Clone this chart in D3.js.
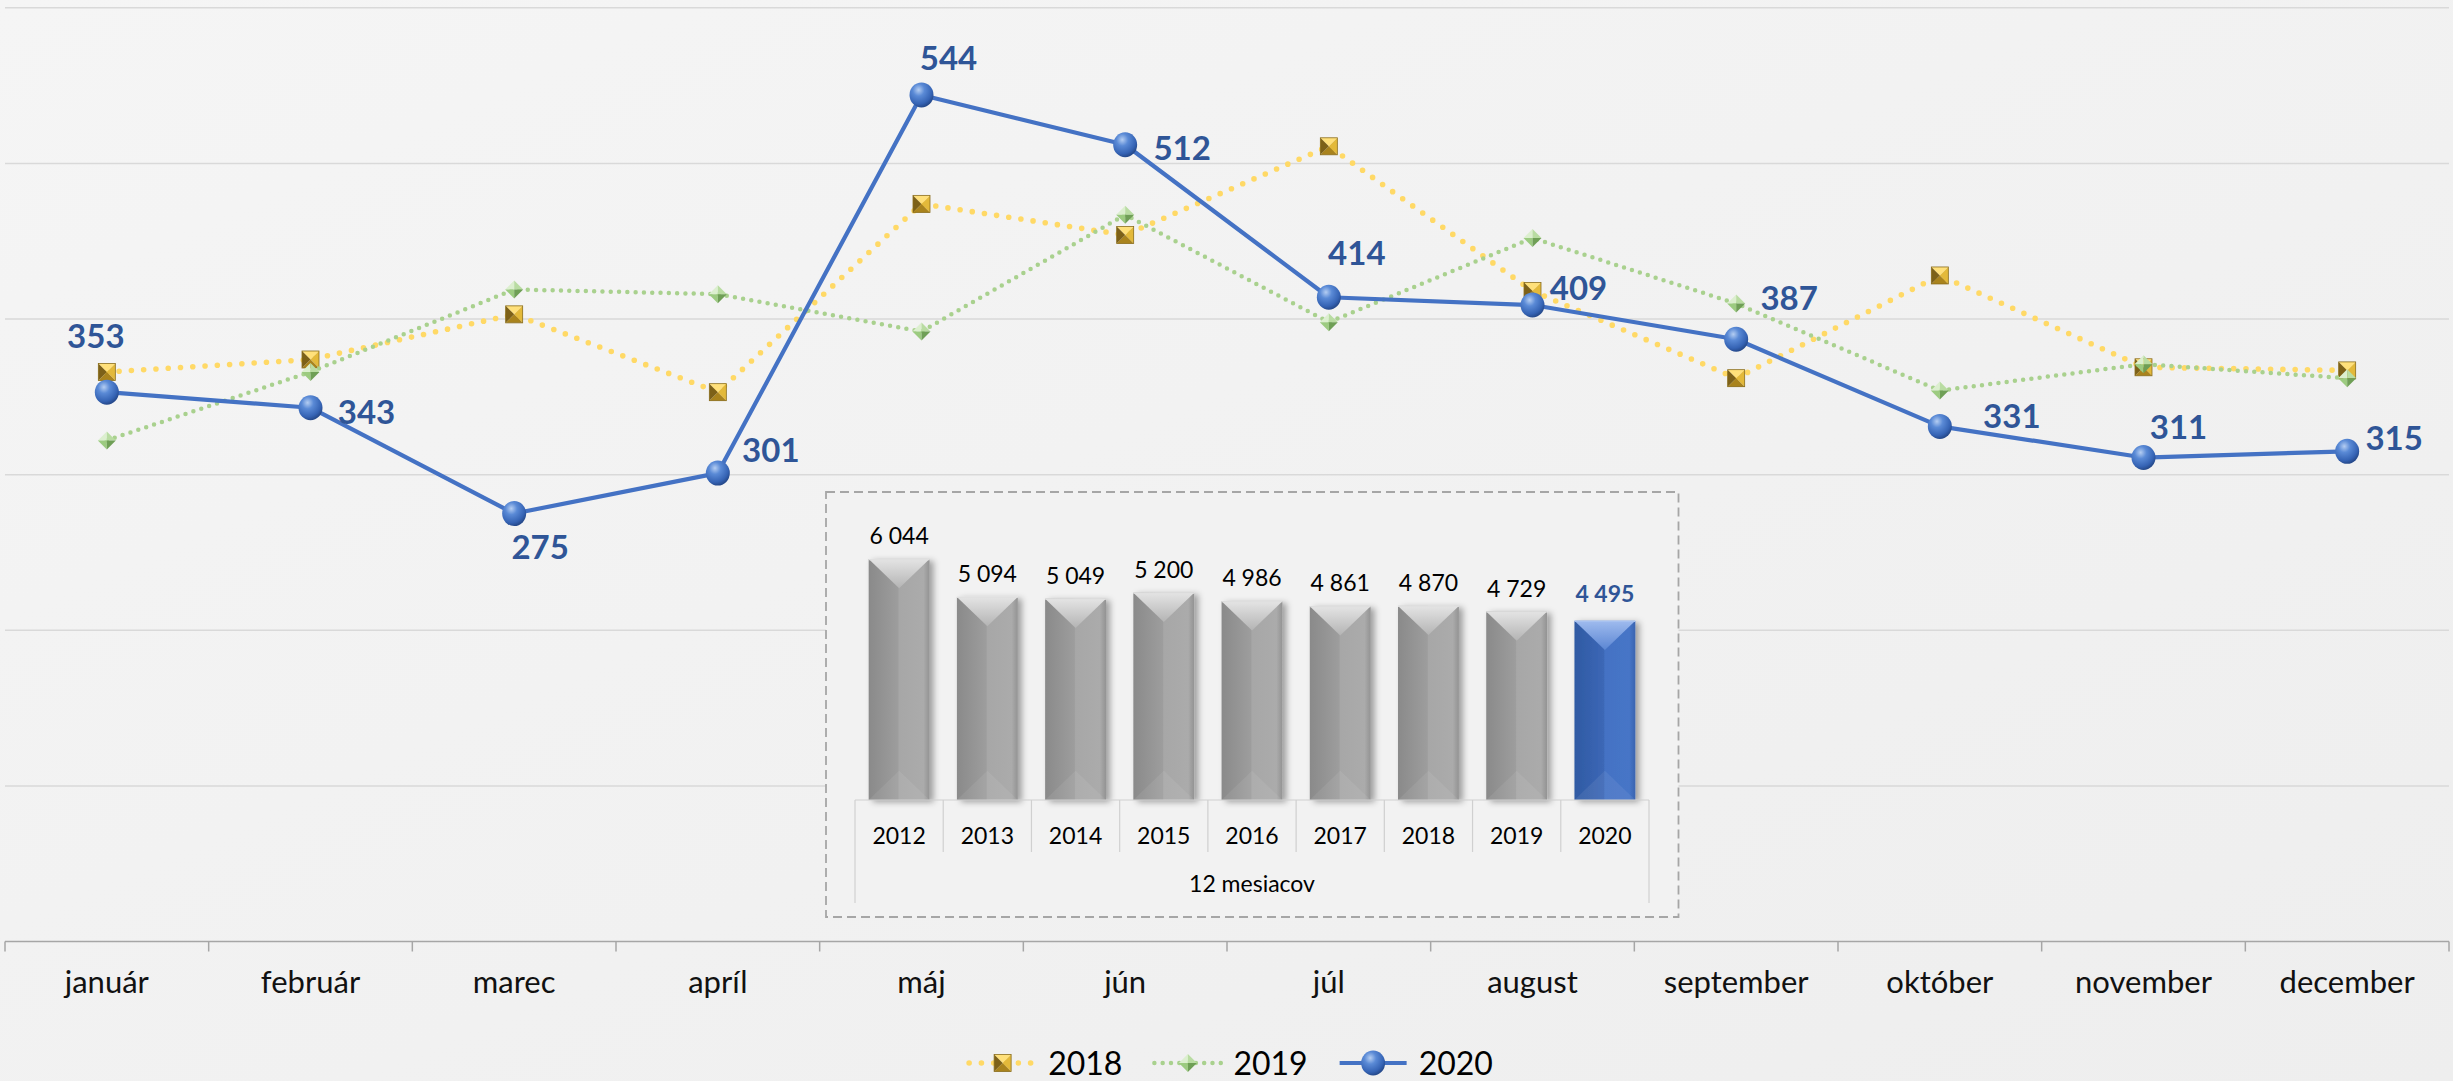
<!DOCTYPE html>
<html>
<head>
<meta charset="utf-8">
<script src="https://cdn.jsdelivr.net/npm/d3@7"></script>
<style>
html, body { margin: 0; padding: 0; background: #f2f2f2; }
svg { display: block; font-family: Lato, "Open Sans", sans-serif; }
</style>
</head>
<body>
<svg id="chart" width="2453" height="1081"></svg>
<script>
var months = ["január", "február", "marec", "apríl", "máj", "jún", "júl", "august", "september", "október", "november", "december"]
var seriesNames = ["2018", "2019", "2020"]
var values2018 = [366, 374, 403, 353, 474, 454, 511, 418, 362, 428, 369, 367]
var values2019 = [322, 366, 419, 416, 392, 467, 398, 452, 410, 354, 371, 362]
var values2020 = [353, 343, 275, 301, 544, 512, 414, 409, 387, 331, 311, 315]
var years = ["2012", "2013", "2014", "2015", "2016", "2017", "2018", "2019", "2020"]
var yearTotals = [6044, 5094, 5049, 5200, 4986, 4861, 4870, 4729, 4495]
var totalsCaption = "12 mesiacov"

// manual nudges of the 2020 data labels, like the hand-placed ones in the original
var labelNudge = [[-11, -57], [56, 3], [26, 32], [53, -24], [27, -38], [57, 2],
    [28, -45], [46, -18], [53, -42], [72, -11], [35, -32], [47, -14]]

var W = 2453, H = 1081
var svg = d3.select("#chart")
var defs = svg.append("defs")

var bg = defs.append("linearGradient").attr("id", "bg")
    .attr("x1", 0).attr("y1", 0).attr("x2", 1).attr("y2", 1)
bg.append("stop").attr("offset", 0).attr("stop-color", "#f5f5f5")
bg.append("stop").attr("offset", 1).attr("stop-color", "#eeeeee")

var sphere = defs.append("radialGradient").attr("id", "sphere")
    .attr("cx", "38%").attr("cy", "30%").attr("r", "70%")
sphere.append("stop").attr("offset", 0).attr("stop-color", "#b4cdf2")
sphere.append("stop").attr("offset", 0.35).attr("stop-color", "#5a8ad6")
sphere.append("stop").attr("offset", 0.8).attr("stop-color", "#3563b4")
sphere.append("stop").attr("offset", 1).attr("stop-color", "#264a8c")

function hGrad(id, stops) {
    var g = defs.append("linearGradient").attr("id", id)
        .attr("x1", 0).attr("y1", 0).attr("x2", 1).attr("y2", 0)
    stops.forEach(function(s) {
        g.append("stop").attr("offset", s[0]).attr("stop-color", s[1])
    })
}
function vGrad(id, stops) {
    var g = defs.append("linearGradient").attr("id", id)
        .attr("x1", 0).attr("y1", 0).attr("x2", 0).attr("y2", 1)
    stops.forEach(function(s) {
        g.append("stop").attr("offset", s[0]).attr("stop-color", s[1])
    })
}
hGrad("barGray", [[0, "#8a8a8a"], [0.48, "#9d9d9d"], [0.5, "#a7a7a7"], [0.9, "#ababab"], [1, "#939393"]])
hGrad("barBlue", [[0, "#2f5aa3"], [0.48, "#3c67b6"], [0.5, "#4472c4"], [0.9, "#4675c7"], [1, "#3a64b0"]])
vGrad("topGray", [[0, "#e4e4e4"], [1, "#b4b4b4"]])
vGrad("topBlue", [[0, "#9fbbee"], [1, "#5b86d3"]])

var shadow = defs.append("filter").attr("id", "shadow")
    .attr("x", "-30%").attr("y", "-10%").attr("width", "160%").attr("height", "130%")
shadow.append("feDropShadow").attr("dx", 4).attr("dy", 2)
    .attr("stdDeviation", 3).attr("flood-color", "#000").attr("flood-opacity", 0.35)

svg.append("rect").attr("width", W).attr("height", H).attr("fill", "url(#bg)")

// main line chart
var x = d3.scaleBand().domain(months).range([5, 2449])
var y = d3.scaleLinear().domain([0, 600]).range([941.5, 7.8])
var cx = function(i) { return x(months[i]) + x.bandwidth() / 2 }

svg.append("g").selectAll("line")
    .data(y.ticks(6).filter(function(d) { return d > 0 }))
    .join("line")
    .attr("x1", x.range()[0]).attr("x2", x.range()[1])
    .attr("y1", y).attr("y2", y)
    .attr("stroke", "#d9d9d9").attr("stroke-width", 1.5)

var axis = svg.append("g")
axis.append("line")
    .attr("x1", x.range()[0]).attr("x2", x.range()[1])
    .attr("y1", y(0)).attr("y2", y(0))
    .attr("stroke", "#a6a6a6").attr("stroke-width", 1.5)
axis.selectAll(".tick")
    .data(months.map(function(m) { return x(m) }).concat([x.range()[1]]))
    .join("line").attr("class", "tick")
    .attr("x1", function(d) { return d }).attr("x2", function(d) { return d })
    .attr("y1", y(0)).attr("y2", y(0) + 10)
    .attr("stroke", "#a6a6a6").attr("stroke-width", 1.5)
axis.selectAll("text").data(months).join("text")
    .attr("x", function(d, i) { return cx(i) })
    .attr("y", 993)
    .attr("text-anchor", "middle")
    .style("font-size", "31px").style("fill", "#111")
    .text(function(d) { return d })

function drawMarker(g, kind) {
    if (kind === "square") {
        var s = 8.5
        var facets = [
            [[-s, -s], [s, -s], [0, 0], "#ffe07a"],
            [[s, -s], [s, s], [0, 0], "#e3b93a"],
            [[s, s], [-s, s], [0, 0], "#a9831d"],
            [[-s, s], [-s, -s], [0, 0], "#7d6118"]
        ]
        facets.forEach(function(f) {
            g.append("polygon").attr("points", [f[0], f[1], f[2]].join(" ")).attr("fill", f[3])
        })
        g.append("rect").attr("x", -s).attr("y", -s).attr("width", 2 * s).attr("height", 2 * s)
            .attr("fill", "none").attr("stroke", "#8a6d1c").attr("stroke-width", 0.8)
    } else if (kind === "diamond") {
        var a = 9
        var dfacets = [
            [[0, -a], [-a, 0], [0, 0], "#dcefcf"],
            [[0, -a], [a, 0], [0, 0], "#b9dca2"],
            [[-a, 0], [0, a], [0, 0], "#9ccb80"],
            [[a, 0], [0, a], [0, 0], "#6f9f56"]
        ]
        dfacets.forEach(function(f) {
            g.append("polygon").attr("points", [f[0], f[1], f[2]].join(" ")).attr("fill", f[3])
        })
    } else {
        g.append("ellipse").attr("rx", 12).attr("ry", 12.5)
            .attr("fill", "url(#sphere)")
    }
}

var series = [
    { name: seriesNames[0], values: values2018, color: "#ffd966", width: 5.6, dash: "0,12.3", marker: "square" },
    { name: seriesNames[1], values: values2019, color: "#a9d18e", width: 4.5, dash: "0,8.3", marker: "diamond" },
    { name: seriesNames[2], values: values2020, color: "#4472c4", width: 4.2, dash: null, marker: "sphere" }
]

var line = d3.line()
    .x(function(d, i) { return cx(i) })
    .y(function(d) { return y(d) })

series.forEach(function(s) {
    var g = svg.append("g").attr("class", "series")
    g.append("path").attr("d", line(s.values))
        .attr("fill", "none").attr("stroke", s.color)
        .attr("stroke-width", s.width)
        .attr("stroke-linecap", s.dash ? "round" : "butt")
        .attr("stroke-linejoin", "round")
        .attr("stroke-dasharray", s.dash)
    s.values.forEach(function(v, i) {
        var m = g.append("g").attr("transform", "translate(" + cx(i) + "," + y(v) + ")")
        drawMarker(m, s.marker)
    })
})

svg.append("g").selectAll("text").data(values2020).join("text")
    .attr("x", function(d, i) { return cx(i) + labelNudge[i][0] })
    .attr("y", function(d, i) { return y(d) + labelNudge[i][1] })
    .attr("text-anchor", "middle").attr("dominant-baseline", "central")
    .style("font-size", "33px").style("font-weight", 700).style("fill", "#2f5597")
    .text(function(d) { return d })

// inset with yearly totals
var fmt = d3.formatLocale({ decimal: ",", thousands: " ", grouping: [3], currency: ["", ""] }).format(",d")
var inset = svg.append("g")
inset.append("rect").attr("x", 826).attr("y", 492).attr("width", 852.5).attr("height", 425)
    .attr("fill", "#f2f2f2").attr("stroke", "#a6a6a6")
    .attr("stroke-width", 1.8).attr("stroke-dasharray", "9,5")

var bx = d3.scaleBand().domain(years).range([855, 1649]).paddingInner(0.31).paddingOuter(0.155)
var by = d3.scaleLinear().domain([0, 7000]).range([800, 521])
var step = bx.step()
var last = years.length - 1

var bars = inset.selectAll(".bar").data(yearTotals).join("g").attr("class", "bar")
    .attr("filter", "url(#shadow)")
bars.each(function(v, i) {
    var g = d3.select(this)
    var bx0 = bx(years[i]), w = bx.bandwidth(), top = by(v), bot = by(0)
    var depth = w * 0.48
    var blue = i === last
    g.append("rect").attr("x", bx0).attr("y", top).attr("width", w).attr("height", bot - top)
        .attr("fill", blue ? "url(#barBlue)" : "url(#barGray)")
    g.append("polygon")
        .attr("points", [[bx0, top], [bx0 + w, top], [bx0 + w / 2, top + depth]].join(" "))
        .attr("fill", blue ? "url(#topBlue)" : "url(#topGray)")
    g.append("polygon")
        .attr("points", [[bx0, bot], [bx0 + w, bot], [bx0 + w / 2, bot - depth]].join(" "))
        .attr("fill", "#fff").attr("opacity", 0.07)
    g.append("line").attr("x1", bx0).attr("x2", bx0 + w).attr("y1", top + 0.5).attr("y2", top + 0.5)
        .attr("stroke", blue ? "#a8c2f0" : "#e0e0e0").attr("stroke-width", 1.2)
})

inset.selectAll(".val").data(yearTotals).join("text").attr("class", "val")
    .attr("x", function(d, i) { return bx(years[i]) + bx.bandwidth() / 2 })
    .attr("y", function(d, i) { return by(d) - (i === last ? 19 : 15) })
    .attr("text-anchor", "middle")
    .style("font-size", "23px")
    .style("font-weight", function(d, i) { return i === last ? 700 : 400 })
    .style("fill", function(d, i) { return i === last ? "#2f5597" : "#000" })
    .text(function(d) { return fmt(d) })

var x0 = bx.range()[0], x1 = bx.range()[1]
inset.append("line").attr("x1", x0).attr("x2", x1).attr("y1", by(0)).attr("y2", by(0))
    .attr("stroke", "#d0d0d0").attr("stroke-width", 1.2)
inset.selectAll(".sep").data(d3.range(years.length + 1)).join("line").attr("class", "sep")
    .attr("x1", function(i) { return x0 + i * step }).attr("x2", function(i) { return x0 + i * step })
    .attr("y1", by(0))
    .attr("y2", function(i) { return (i === 0 || i === years.length) ? 903 : 852 })
    .attr("stroke", "#d0d0d0").attr("stroke-width", 1.2)
inset.selectAll(".yr").data(years).join("text").attr("class", "yr")
    .attr("x", function(d) { return bx(d) + bx.bandwidth() / 2 })
    .attr("y", 844)
    .attr("text-anchor", "middle")
    .style("font-size", "23px").style("fill", "#000")
    .text(function(d) { return d })
inset.append("text").attr("x", (x0 + x1) / 2).attr("y", 892)
    .attr("text-anchor", "middle")
    .style("font-size", "23px").style("fill", "#000")
    .text(totalsCaption)

// legend
var legend = svg.append("g")
var lx = 0
var legY = 1063
series.forEach(function(s, i) {
    var item = legend.append("g").attr("transform", "translate(" + lx + ",0)")
    item.append("line").attr("x1", 0).attr("x2", 67).attr("y1", legY).attr("y2", legY)
        .attr("stroke", s.color).attr("stroke-width", s.width)
        .attr("stroke-linecap", s.dash ? "round" : "butt")
        .attr("stroke-dasharray", s.dash)
    drawMarker(item.append("g").attr("transform", "translate(33.5," + legY + ")"), s.marker)
    var t = item.append("text").attr("x", 79).attr("y", legY + 11.5)
        .style("font-size", "32px").style("fill", "#000")
        .text(s.name)
    lx += 79 + t.node().getComputedTextLength() + 32
})
var legW = lx - 32
legend.attr("transform", "translate(" + (1231 - legW / 2) + ",0)")
</script>
</body>
</html>
